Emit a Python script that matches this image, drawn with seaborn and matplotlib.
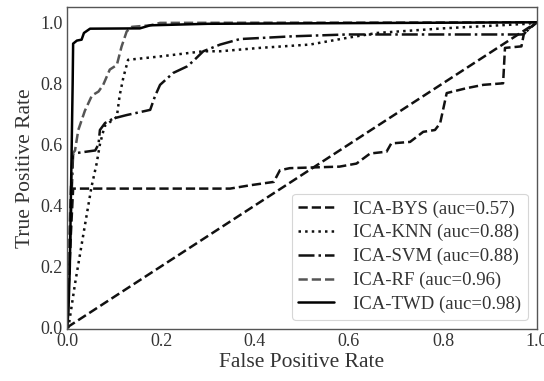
import numpy as np
import pandas as pd
import matplotlib
matplotlib.use("Agg")
import matplotlib.pyplot as plt
import seaborn as sns

# ---- data ----
series_names = ["ICA-BYS", "ICA-KNN", "ICA-SVM", "ICA-RF", "ICA-TWD"]
auc_values = [0.57, 0.88, 0.88, 0.96, 0.98]

bys_fpr = [0, 0.008, 0.013, 0.347, 0.39, 0.44, 0.453, 0.474, 0.58, 0.616, 0.645, 0.68, 0.69,
           0.73, 0.758, 0.783, 0.794, 0.808, 0.85, 0.886, 0.928, 0.932, 0.967, 0.972, 0.98, 1.0]
bys_tpr = [0, 0.3, 0.455, 0.455, 0.466, 0.477, 0.515, 0.522, 0.527, 0.537, 0.57, 0.576, 0.603,
           0.608, 0.641, 0.647, 0.669, 0.768, 0.784, 0.795, 0.80, 0.916, 0.921, 0.96, 0.976, 1.0]

knn_fpr = [0, 0.003, 0.017, 0.035, 0.052, 0.063, 0.07, 0.08, 0.106, 0.112, 0.12, 0.13, 0.198,
           0.29, 0.326, 0.41, 0.517, 0.6, 0.66, 0.8, 0.98, 1.0]
knn_tpr = [0, 0, 0.143, 0.307, 0.46, 0.537, 0.60, 0.66, 0.69, 0.76, 0.82, 0.877, 0.888,
           0.905, 0.905, 0.916, 0.927, 0.95, 0.965, 0.98, 0.995, 1.0]

svm_fpr = [0, 0.005, 0.01, 0.013, 0.06, 0.067, 0.07, 0.081, 0.099, 0.127, 0.177, 0.187, 0.198,
           0.226, 0.255, 0.268, 0.29, 0.326, 0.368, 0.48, 0.595, 0.97, 1.0]
svm_tpr = [0, 0.2, 0.45, 0.57, 0.58, 0.60, 0.647, 0.67, 0.685, 0.696, 0.713, 0.757, 0.795,
           0.834, 0.855, 0.872, 0.905, 0.927, 0.945, 0.954, 0.96, 0.96, 1.0]

rf_fpr = [0, 0.004, 0.008, 0.012, 0.017, 0.024, 0.038, 0.053, 0.067, 0.077, 0.091, 0.106,
          0.116, 0.127, 0.138, 0.177, 0.198, 1.0]
rf_tpr = [0, 0.25, 0.45, 0.57, 0.58, 0.647, 0.71, 0.76, 0.773, 0.795, 0.845, 0.86,
          0.92, 0.97, 0.985, 0.99, 0.998, 1.0]

twd_fpr = [0, 0.003, 0.006, 0.008, 0.010, 0.012, 0.013, 0.021, 0.031, 0.036, 0.049, 0.155,
           0.177, 0.30, 1.0]
twd_tpr = [0, 0.05, 0.2, 0.4, 0.6, 0.8, 0.93, 0.94, 0.943, 0.965, 0.979, 0.98,
           0.99, 0.995, 1.0]

chance_x = [0, 1]
chance_y = [0, 1]

x_ticks = [0.0, 0.2, 0.4, 0.6, 0.8, 1.0]
y_ticks = [0.0, 0.2, 0.4, 0.6, 0.8, 1.0]

# ---- styling ----
sns.set_style("white")
plt.rcParams["font.family"] = ["Liberation Serif", "DejaVu Serif"]

fig = plt.figure(figsize=(5.44, 3.81), dpi=100)
ax = fig.add_axes([0.1232, 0.1365, 0.987 - 0.1232, 0.9816 - 0.1365])

styles = [
    dict(color="#111111", linestyle="--"),
    dict(color="#111111", linestyle=":"),
    dict(color="#111111", linestyle="-."),
    dict(color="#555555", linestyle="--"),
    dict(color="#000000", linestyle="-"),
]
curves = [(bys_fpr, bys_tpr), (knn_fpr, knn_tpr), (svm_fpr, svm_tpr),
          (rf_fpr, rf_tpr), (twd_fpr, twd_tpr)]

sns.lineplot(x=chance_x, y=chance_y, ax=ax, color="#111111", linestyle="--",
             linewidth=1.8, sort=False, estimator=None)

for name, auc, (fx, ty), st in zip(series_names, auc_values, curves, styles):
    sns.lineplot(x=fx, y=ty, ax=ax, label=f"{name} (auc={auc:.2f})",
                 linewidth=1.8, sort=False, estimator=None, **st)

ax.set_xlim(0, 1.0)
ax.set_ylim(-0.005, 1.05)
ax.set_xticks(x_ticks)
ax.set_yticks(y_ticks)
ax.set_xticklabels([f"{t:.1f}" for t in x_ticks])
ax.set_yticklabels([f"{t:.1f}" for t in y_ticks])
ax.tick_params(axis="both", direction="in", length=3, width=0.8, labelsize=13,
               colors="#555555", labelcolor="#333333", pad=3)
for sp in ax.spines.values():
    sp.set_color("#555555")
    sp.set_linewidth(1.0)

ax.set_xlabel("False Positive Rate", fontsize=15.5, color="#333333", labelpad=2)
ax.set_ylabel("True Positive Rate", fontsize=15.5, color="#333333", labelpad=4)

leg = ax.legend(loc="lower right", fontsize=13.5, frameon=True, handlelength=1.9,
                labelspacing=0.35, borderpad=0.35, handletextpad=1.0,
                borderaxespad=0.5)
leg.get_frame().set_edgecolor("#cccccc")
leg.get_frame().set_linewidth(0.8)
for t in leg.get_texts():
    t.set_color("#333333")

fig.savefig("out.png", dpi=100)
